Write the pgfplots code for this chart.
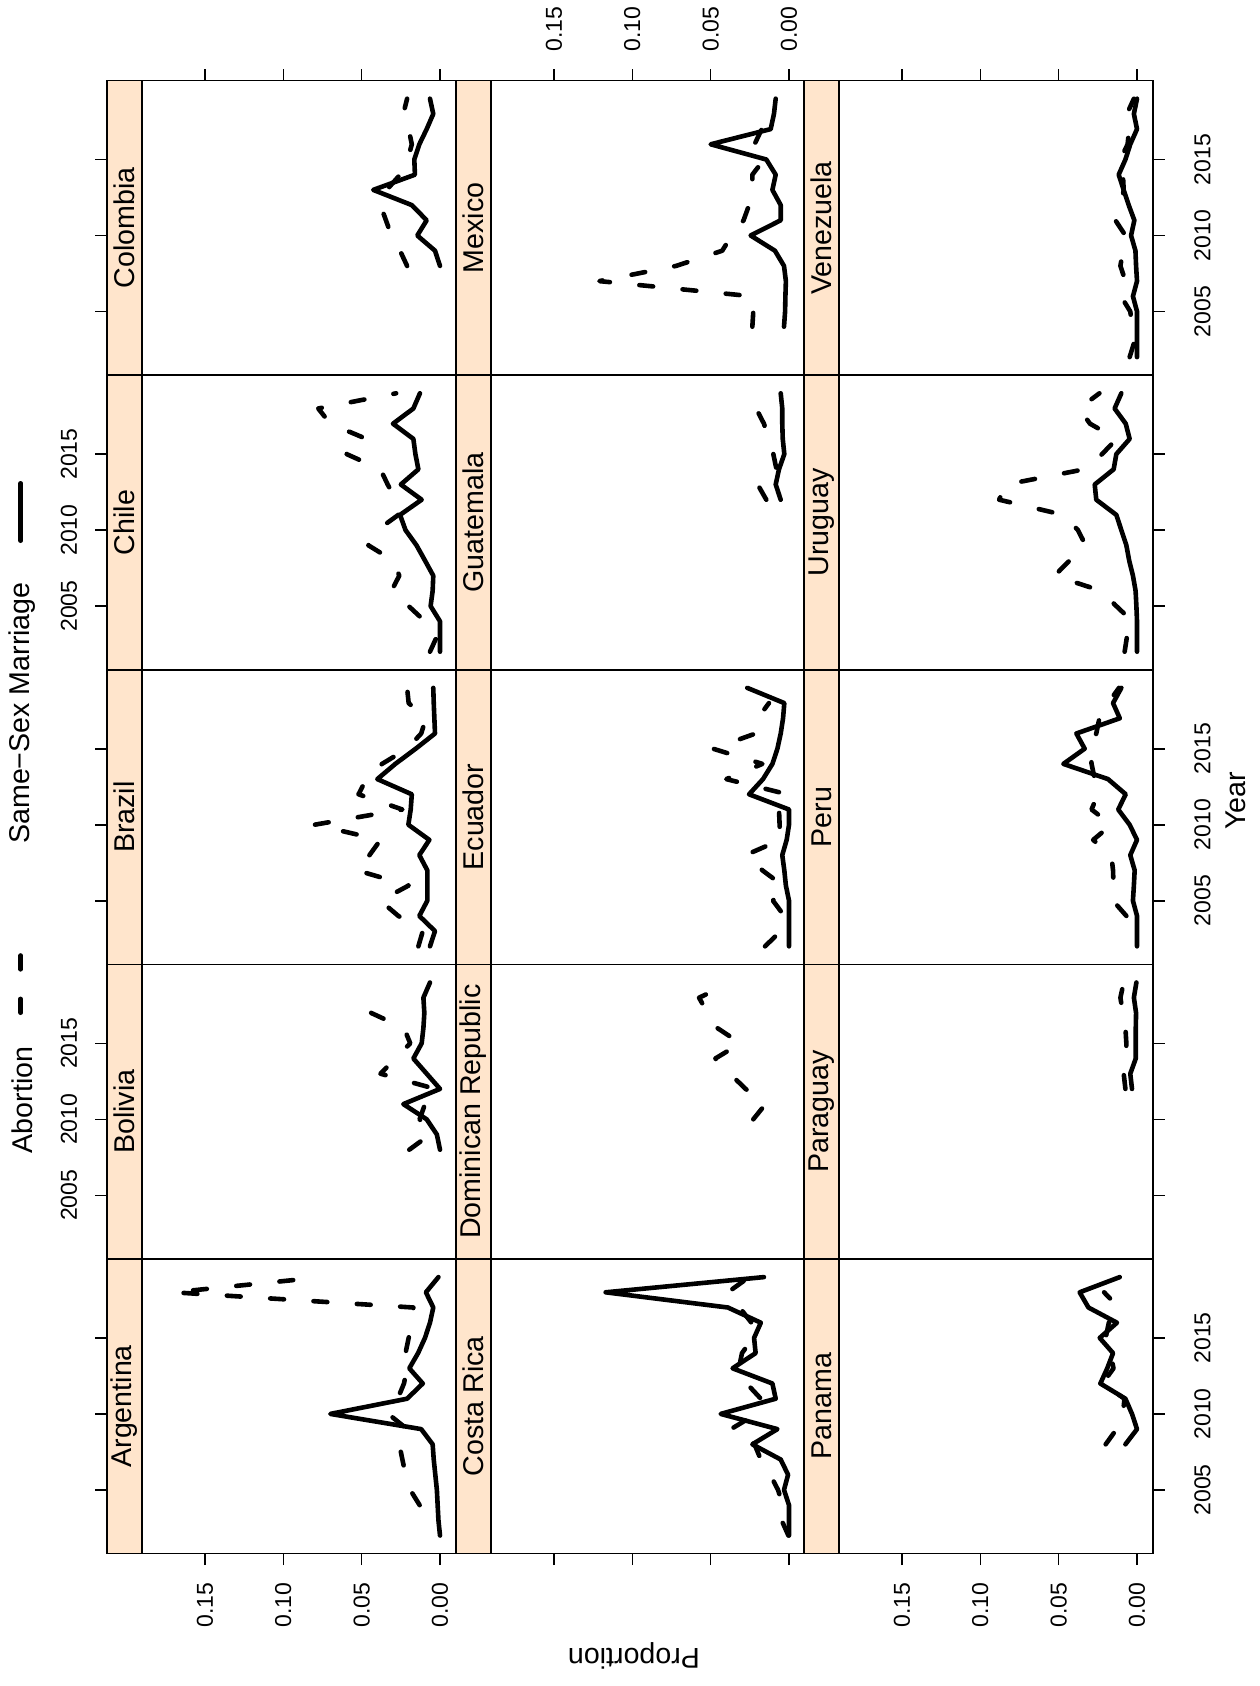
\documentclass[border=0pt]{standalone}
\usepackage{pgfplots}
\pgfplotsset{compat=1.18}
\usepackage{fontspec}
\setmainfont{Liberation Sans}
\definecolor{stripbg}{HTML}{FFE5CC}
\tikzset{
  ab/.style={black, line width=2.3pt, dash pattern=on 6.9pt off 14.8pt, line cap=round, line join=round},
  ss/.style={black, line width=2.3pt, line cap=round, line join=round},
  big/.style={font=\fontsize{14.3}{16}\selectfont},
}
\pgfplotsset{
  panel/.style={
    anchor=north west, scale only axis, width=174.5pt, height=147.3pt,
    x dir=reverse, xmin=-0.0102, xmax=0.2125, ymin=2000.81, ymax=2020.19,
    axis on top, axis line style={line width=0.8pt}, no markers,
    tick style={line width=0.8pt, black}, tick align=outside, major tick length=5.8pt,
    xtick=\empty, ytick=\empty,
    tick label style={font=\fontsize{11.5}{13}\selectfont, inner sep=0pt},
    /pgf/number format/assume math mode=true,
    clip=true,
  },
  xb/.style={xtick={0,0.05,0.1,0.15}, xtick pos=left, xticklabels={,,,}},
  xbl/.style={xtick={0,0.05,0.1,0.15}, xtick pos=left, xticklabel pos=left,
    xticklabels={0.00,0.05,0.10,0.15}, xticklabel style={rotate=90, anchor=east}, xticklabel shift=8.5pt},
  xt/.style={xtick={0,0.05,0.1,0.15}, xtick pos=right, xticklabels={,,,}},
  xtl/.style={xtick={0,0.05,0.1,0.15}, xtick pos=right, xticklabel pos=right,
    xticklabels={0.00,0.05,0.10,0.15}, xticklabel style={rotate=90, anchor=west}, xticklabel shift=8.6pt},
  yl/.style={ytick={2005,2010,2015}, ytick pos=left, yticklabels={,,}},
  yll/.style={ytick={2005,2010,2015}, ytick pos=left, yticklabel pos=left,
    yticklabels={2005,2010,2015}, yticklabel style={rotate=90, anchor=south}, yticklabel shift=9pt},
  yr/.style={ytick={2005,2010,2015}, ytick pos=right, yticklabels={,,}},
  yrl/.style={ytick={2005,2010,2015}, ytick pos=right, yticklabel pos=right,
    yticklabels={2005,2010,2015}, yticklabel style={rotate=90, anchor=north}, yticklabel shift=14.7pt},
}
\newcommand{\strip}[1]{%
  \fill[stripbg] (axis cs:0.1902,2000.81) rectangle (axis cs:0.2125,2020.19);
  \draw[line width=0.8pt] (axis cs:0.1902,2000.81) -- (axis cs:0.1902,2020.19);
  \node[rotate=90, big] at (axis cs:0.20135,2010.5) {#1};
}
\begin{document}
\begin{tikzpicture}
\useasboundingbox (0pt,0pt) rectangle (629.5pt,-843pt);
% legend
\node[rotate=90, big] at (11.1pt,-550pt) {Abortion};
\draw[ab] (10.35pt,-506.35pt) -- (10.35pt,-477.65pt);
\node[rotate=90, big] at (11.1pt,-356.5pt) {Same−Sex Marriage};
\draw[ss] (10.35pt,-270.35pt) -- (10.35pt,-241.65pt);
% axis titles
\node[rotate=90, big] at (618pt,-400.5pt) {Year};
\node[rotate=180, big] at (317pt,-828pt) {Proportion};

% ---------------- Row 1 ----------------
\begin{axis}[panel, xt, yl, at={(53.5pt,-40.3pt)}]
\strip{Colombia}
\addplot[ab] coordinates {(0.021,2008)(0.0255,2009)(0.031,2010)(0.0345,2011)(0.038,2012)(0.034,2013)(0.0255,2014)(0.0206,2015)(0.018,2016)(0.020,2017)(0.0234,2018)(0.021,2019)};
\addplot[ss] coordinates {(0,2008)(0.0032,2009)(0.0145,2010)(0.0085,2011)(0.018,2012)(0.0426,2013)(0.016,2014)(0.0164,2015)(0.0132,2016)(0.0085,2017)(0.0043,2018)(0.0064,2019)};
\end{axis}
\begin{axis}[panel, xtl, at={(228pt,-40.3pt)}]
\strip{Mexico}
\addplot[ab] coordinates {(0.0234,2004)(0.0228,2005)(0.0234,2006)(0.121,2007)(0.072,2008)(0.0426,2009)(0.0366,2010)(0.029,2011)(0.0255,2012)(0.0234,2013)(0.0234,2014)(0.016,2015)(0.022,2016)(0.0174,2017)(0.022,2018)};
\addplot[ss] coordinates {(0.0032,2004)(0.0025,2005)(0.0023,2006)(0.002,2007)(0.0032,2008)(0.009,2009)(0.0245,2010)(0.0053,2011)(0.0053,2012)(0.0106,2013)(0.0085,2014)(0.0145,2015)(0.050,2016)(0.0117,2017)(0.0096,2018)(0.0085,2019)};
\end{axis}
\begin{axis}[panel, xt, yrl, at={(402pt,-40.3pt)}]
\strip{Venezuela}
\addplot[ab] coordinates {(0.0047,2002)(0.0017,2003)(0.003,2004)(0.0043,2005)(0.0102,2006)(0.0074,2007)(0.0106,2008)(0.009,2009)(0.0074,2010)(0.0138,2011)(0.010,2012)(0.0085,2013)(0.009,2014)(0.0106,2015)(0.006,2016)(0.005,2017)(0.0064,2018)(0.002,2019)};
\addplot[ss] coordinates {(0,2002)(0,2003)(0,2004)(0,2005)(0.0026,2006)(0,2007)(0.0006,2008)(0.001,2009)(0.0038,2010)(0.0017,2011)(0.0053,2012)(0.0085,2013)(0.0117,2014)(0.0074,2015)(0.0043,2016)(0,2017)(0.002,2018)(0,2019)};
\end{axis}

% ---------------- Row 2 ----------------
\begin{axis}[panel, yll, at={(53.5pt,-187.6pt)}]
\strip{Chile}
\addplot[ab] coordinates {(0.0064,2002)(0.002,2003)(0.0096,2004)(0.020,2005)(0.031,2006)(0.026,2007)(0.030,2008)(0.0457,2009)(0.040,2010)(0.0266,2011)(0.028,2012)(0.0334,2013)(0.038,2014)(0.0596,2015)(0.047,2016)(0.070,2017)(0.0777,2018)(0.028,2019)};
\addplot[ss] coordinates {(0,2002)(0,2003)(0,2004)(0.006,2005)(0.0047,2006)(0.0043,2007)(0.0096,2008)(0.015,2009)(0.022,2010)(0.0255,2011)(0.0117,2012)(0.025,2013)(0.0138,2014)(0.0157,2015)(0.017,2016)(0.030,2017)(0.017,2018)(0.0128,2019)};
\end{axis}
\begin{axis}[panel, at={(228pt,-187.6pt)}]
\strip{Guatemala}
\addplot[ab] coordinates {(0.0145,2012)(0.020,2013)(0.008,2014)(0.010,2015)(0.013,2016)(0.016,2017)(0.021,2018)};
\addplot[ss] coordinates {(0.0053,2012)(0.0085,2013)(0.0064,2014)(0.003,2015)(0.004,2016)(0.0043,2017)(0.0043,2018)(0.0053,2019)};
\end{axis}
\begin{axis}[panel, yr, at={(402pt,-187.6pt)}]
\strip{Uruguay}
\addplot[ab] coordinates {(0.0079,2002)(0.0064,2003)(0.003,2004)(0.0132,2005)(0.0228,2006)(0.0526,2007)(0.043,2008)(0.0328,2009)(0.0377,2010)(0.047,2011)(0.088,2012)(0.0834,2013)(0.0336,2014)(0.0223,2015)(0.013,2016)(0.030,2017)(0.037,2018)(0.024,2019)};
\addplot[ss] coordinates {(0,2002)(0,2003)(0,2004)(0.0004,2005)(0.0009,2006)(0.0026,2007)(0.005,2008)(0.0068,2009)(0.010,2010)(0.0132,2011)(0.026,2012)(0.027,2013)(0.0149,2014)(0.0132,2015)(0.0047,2016)(0.0072,2017)(0.0143,2018)(0.010,2019)};
\end{axis}

% ---------------- Row 3 ----------------
\begin{axis}[panel, yl, at={(53.5pt,-334.9pt)}]
\strip{Brazil}
\addplot[ab] coordinates {(0.0138,2002)(0.011,2003)(0.0266,2004)(0.038,2005)(0.020,2006)(0.053,2007)(0.045,2008)(0.038,2009)(0.080,2010)(0.024,2011)(0.052,2012)(0.047,2013)(0.037,2014)(0.021,2015)(0.012,2016)(0.009,2017)(0.020,2018)(0.021,2019)};
\addplot[ss] coordinates {(0.0064,2002)(0.0032,2003)(0.0132,2004)(0.0081,2005)(0.0081,2006)(0.0081,2007)(0.0132,2008)(0.0068,2009)(0.0202,2010)(0.0187,2011)(0.018,2012)(0.040,2013)(0.0285,2014)(0.0155,2015)(0.0032,2016)(0.0036,2017)(0.004,2018)(0.0043,2019)};
\end{axis}
\begin{axis}[panel, at={(228pt,-334.9pt)}]
\strip{Ecuador}
\addplot[ab] coordinates {(0.0153,2002)(0.0053,2003)(0.003,2004)(0.0102,2005)(0.004,2006)(0.017,2007)(0.0277,2008)(0.0055,2009)(0.006,2010)(0.0064,2011)(0.001,2012)(0.040,2013)(0.017,2014)(0.0485,2015)(0.0213,2016)(0.020,2017)(0.0128,2018)};
\addplot[ss] coordinates {(0,2002)(0,2003)(0,2004)(0,2005)(0.002,2006)(0.003,2007)(0.0043,2008)(0.0015,2009)(0,2010)(0,2011)(0.0255,2012)(0.0166,2013)(0.0106,2014)(0.0074,2015)(0.0053,2016)(0.0038,2017)(0.003,2018)(0.0266,2019)};
\end{axis}
\begin{axis}[panel, yrl, at={(402pt,-334.9pt)}]
\strip{Peru}
\addplot[ab] coordinates {(0.0068,2004)(0.0153,2005)(0.015,2006)(0.0153,2007)(0.0164,2008)(0.028,2009)(0.0164,2010)(0.029,2011)(0.025,2012)(0.027,2013)(0.029,2014)(0.030,2015)(0.026,2016)(0.024,2017)(0.0185,2018)(0.0115,2019)};
\addplot[ss] coordinates {(0,2002)(0,2003)(0,2004)(0.0026,2005)(0.002,2006)(0.0015,2007)(0.0043,2008)(0,2009)(0.0047,2010)(0.012,2011)(0.0072,2012)(0.0185,2013)(0.047,2014)(0.0334,2015)(0.0387,2016)(0.011,2017)(0.0153,2018)(0.010,2019)};
\end{axis}

% ---------------- Row 4 ----------------
\begin{axis}[panel, yll, at={(53.5pt,-482.2pt)}]
\strip{Bolivia}
\addplot[ab] coordinates {(0.0196,2008)(0.0064,2009)(0.013,2010)(0.0096,2011)(0.003,2012)(0.038,2013)(0.0285,2014)(0.019,2015)(0.023,2016)(0.044,2017)(0.032,2018)};
\addplot[ss] coordinates {(0,2008)(0.002,2009)(0.0085,2010)(0.0234,2011)(0,2012)(0.0085,2013)(0.017,2014)(0.0117,2015)(0.0106,2016)(0.010,2017)(0.0106,2018)(0.0064,2019)};
\end{axis}
\begin{axis}[panel, at={(228pt,-482.2pt)}]
\strip{Dominican Republic}
\addplot[ab] coordinates {(0.0228,2010)(0.015,2011)(0.0277,2012)(0.0377,2013)(0.047,2014)(0.031,2015)(0.0457,2016)(0.052,2017)(0.0574,2018)(0.037,2019)};
\end{axis}
\begin{axis}[panel, yr, at={(402pt,-482.2pt)}]
\strip{Paraguay}
\addplot[ab] coordinates {(0.0074,2012)(0.0085,2013)(0.007,2014)(0.0068,2015)(0.0074,2016)(0.009,2017)(0.0106,2018)(0.0085,2019)};
\addplot[ss] coordinates {(0.0032,2012)(0.0043,2013)(0.0008,2014)(0.0008,2015)(0.0008,2016)(0.0006,2017)(0.002,2018)(0.0004,2019)};
\end{axis}

% ---------------- Row 5 ----------------
\begin{axis}[panel, xbl, yl, at={(53.5pt,-629.5pt)}]
\strip{Argentina}
\addplot[ab] coordinates {(0.013,2004)(0.019,2005)(0.022,2006)(0.024,2007)(0.026,2008)(0.021,2009)(0.033,2010)(0.027,2011)(0.023,2012)(0.021,2013)(0.022,2014)(0.020,2015)(0.018,2016)(0.017,2017)(0.170,2018)(0.075,2019)};
\addplot[ss] coordinates {(0,2002)(0.001,2003)(0.0015,2004)(0.002,2005)(0.003,2006)(0.004,2007)(0.0047,2008)(0.012,2009)(0.070,2010)(0.021,2011)(0.011,2012)(0.0196,2013)(0.014,2014)(0.0096,2015)(0.0064,2016)(0.0043,2017)(0.009,2018)(0.001,2019)};
\end{axis}
\begin{axis}[panel, xb, at={(228pt,-629.5pt)}]
\strip{Costa Rica}
\addplot[ab] coordinates {(0.0004,2002)(0.0047,2003)(0.004,2004)(0.007,2005)(0.012,2006)(0.018,2007)(0.022,2008)(0.037,2009)(0.021,2010)(0.018,2011)(0.027,2012)(0.032,2013)(0.030,2014)(0.023,2015)(0.024,2016)(0.0315,2017)(0.039,2018)(0.0255,2019)};
\addplot[ss] coordinates {(0,2002)(0,2003)(0,2004)(0.0032,2005)(0.0006,2006)(0.0053,2007)(0.0234,2008)(0.0074,2009)(0.0436,2010)(0.0085,2011)(0.0106,2012)(0.036,2013)(0.0213,2014)(0.0223,2015)(0.018,2016)(0.039,2017)(0.117,2018)(0.016,2019)};
\end{axis}
\begin{axis}[panel, xbl, yrl, at={(402pt,-629.5pt)}]
\strip{Panama}
\addplot[ab] coordinates {(0.020,2008)(0.013,2009)(0.009,2010)(0.008,2011)(0.022,2012)(0.015,2013)(0.017,2014)(0.020,2015)(0.018,2016)(0.0117,2017)(0.021,2018)};
\addplot[ss] coordinates {(0.0074,2008)(0,2009)(0.0032,2010)(0.0074,2011)(0.0234,2012)(0.019,2013)(0.0153,2014)(0.0238,2015)(0.0128,2016)(0.031,2017)(0.0366,2018)(0.011,2019)};
\end{axis}
\end{tikzpicture}
\end{document}
